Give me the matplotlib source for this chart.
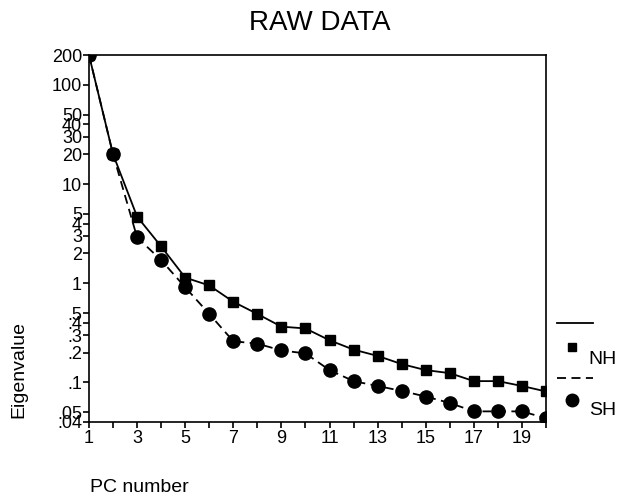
import numpy as np
import matplotlib.pyplot as plt
from matplotlib.lines import Line2D

plt.rcParams['font.family'] = ['Liberation Sans', 'DejaVu Sans']

# PC numbers and eigenvalues
pc = np.arange(1, 21)
nh = [200, 20, 4.7, 2.35, 1.14, 0.95, 0.65, 0.49, 0.365, 0.35,
      0.266, 0.214, 0.185, 0.153, 0.133, 0.124, 0.103, 0.103, 0.092, 0.081]
sh = [200, 20, 2.9, 1.71, 0.91, 0.49, 0.26, 0.246, 0.21, 0.196,
      0.133, 0.103, 0.092, 0.082, 0.072, 0.062, 0.051, 0.051, 0.051, 0.0435]

yticks = [200, 100, 50, 40, 30, 20, 10, 5, 4, 3, 2, 1,
          0.5, 0.4, 0.3, 0.2, 0.1, 0.05, 0.04]
ylabels = ['200', '100', '50', '40', '30', '20', '10', '5', '4', '3', '2', '1',
           '.5', '.4', '.3', '.2', '.1', '.05', '.04']
xlabels = [1, 3, 5, 7, 9, 11, 13, 15, 17, 19]

fig = plt.figure(figsize=(6.18, 5.01), dpi=100)
ax = fig.add_axes([0.144, 0.158, 0.7395, 0.732])

ax.plot(pc, nh, color='black', linestyle='-', linewidth=1.3,
        marker='s', markersize=6.5)
ax.plot(pc, sh, color='black', linestyle=(0, (5, 3)), linewidth=1.3,
        marker='o', markersize=9.5)

ax.set_yscale('log')
ax.set_ylim(0.04, 200)
ax.set_xlim(1, 20)
ax.set_yticks(yticks)
ax.set_yticklabels(ylabels)
ax.yaxis.set_minor_locator(plt.NullLocator())
ax.set_xticks(pc, minor=True)
ax.set_xticks(xlabels)
ax.tick_params(axis='both', which='major', direction='out', length=4,
               width=1.2, labelsize=13, pad=2)
ax.tick_params(axis='x', which='minor', direction='out', length=4, width=1.2)
ax.tick_params(axis='y', pad=1)
for s in ax.spines.values():
    s.set_linewidth(1.2)

fig.text(0.518, 0.955, 'RAW DATA', ha='center', va='center', fontsize=20)
fig.text(0.03, 0.262, 'Eigenvalue', rotation=90, ha='center', va='center', fontsize=14)
fig.text(0.145, 0.026, 'PC number', ha='left', va='center', fontsize=14)

# legend drawn to the right of the plot
lg = fig.add_axes([0.885, 0.15, 0.115, 0.25])
lg.set_xlim(0, 1)
lg.set_ylim(0, 1)
lg.axis('off')
lg.add_line(Line2D([0.14, 0.65], [0.824, 0.824], color='black', linewidth=1.3))
lg.add_line(Line2D([0.35], [0.632], marker='s', markersize=6, color='black'))
lg.text(0.58, 0.528, 'NH', fontsize=14, va='center')
lg.add_line(Line2D([0.14, 0.65], [0.384, 0.384], color='black', linewidth=1.3,
                   linestyle=(0, (5, 3))))
lg.add_line(Line2D([0.35], [0.208], marker='o', markersize=9, color='black'))
lg.text(0.6, 0.12, 'SH', fontsize=14, va='center')

fig.savefig('out.png', dpi=100)
